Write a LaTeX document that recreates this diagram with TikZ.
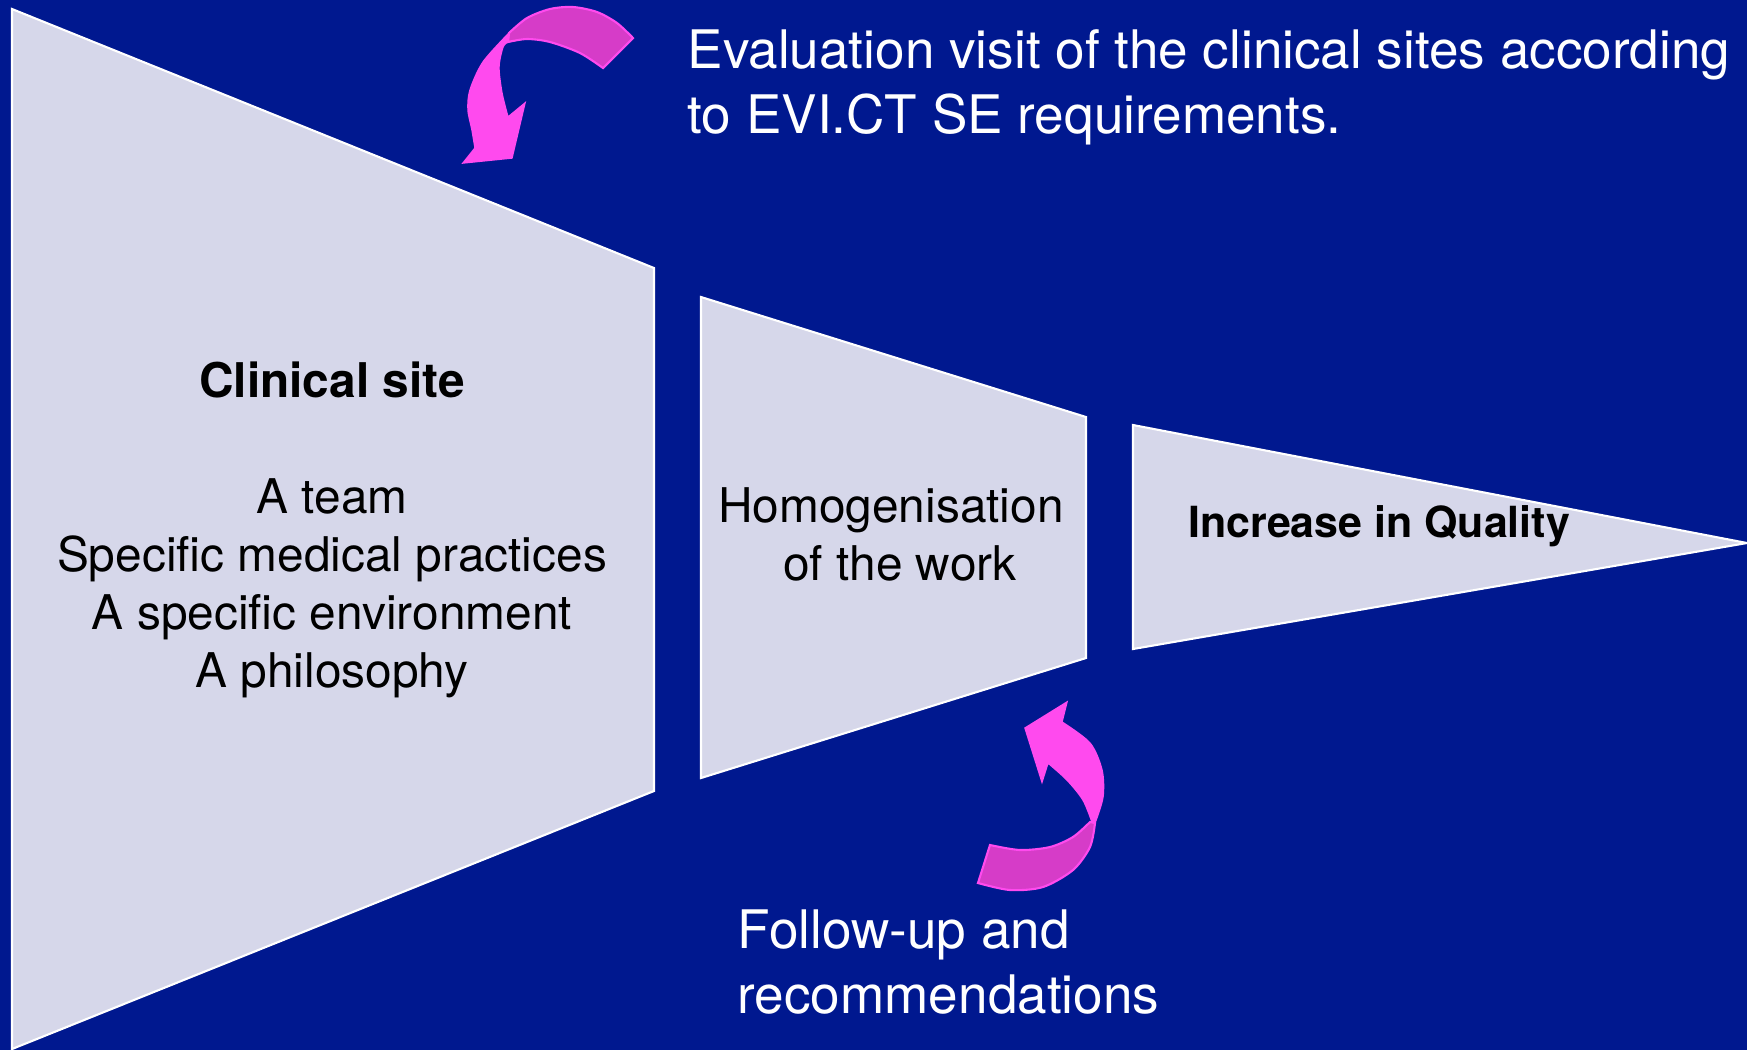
\documentclass[tikz,border=0pt]{standalone}
\usepackage{fontspec}
\setmainfont{TeX Gyre Heros}

\definecolor{slideblue}{RGB}{0,24,143}
\definecolor{stagefill}{RGB}{214,215,234}
\definecolor{arrowpink}{RGB}{255,74,238}
\definecolor{arrowdark}{RGB}{214,60,200}

\begin{document}
\begin{tikzpicture}[x=0.01cm,y=-0.01cm]

  \tikzstyle{stage}=[fill=stagefill,draw=white,line width=0.6pt,line join=miter]
  \tikzstyle{arrowfront}=[fill=arrowpink,draw=arrowpink,line width=0.4pt]
  \tikzstyle{arrowback}=[fill=arrowdark,draw=arrowpink,line width=0.6pt]
  \tikzstyle{body}=[font=\fontsize{13.6}{16.5}\selectfont,align=center,inner sep=0pt]
  \tikzstyle{note}=[text=white,font=\fontsize{15.1}{18.4}\selectfont,align=left,anchor=west,inner sep=0pt]

  % ====================
  % Parameters
  % ====================
  \def\slidew{1747} % Width of the slide
  \def\slideh{1050} % Height of the slide
  \def\midy{530}    % Common axis of the three stages
  % ====================

  % Background
  \fill[slideblue] (0,0) rectangle (\slidew,\slideh);
  \useasboundingbox (0,0) rectangle (\slidew,\slideh);

  % ====================
  % Stages
  % ====================
  \draw[stage] (12,9) -- (654,268) -- (654,791) -- (12,1049) -- cycle;
  \draw[stage] (701,297) -- (1086,417) -- (1086,658) -- (701,778) -- cycle;
  \draw[stage] (1133,425) -- (1747,543) -- (1133,649) -- cycle;

  \node (site) [body] at (332,\midy) {\textbf{Clinical site}\\[16.5pt]A team\\Specific medical practices\\A specific environment\\A philosophy};
  \node (homog) [body] at (891,534) {Homogenisation\\\hspace*{0.18cm}of the work};
  \node (quality) [body,font=\fontsize{12.2}{14}\selectfont\bfseries,anchor=base] at (1379,537) {Increase in Quality};

  % ====================
  % Curved arrows
  % ====================
  % Evaluation visit
  \draw[arrowback] plot[smooth] coordinates {(509,33) (527,18) (550,9) (573,7) (597,12) (617,23) (633,38)}
    -- (603,68) -- plot[smooth] coordinates {(603,68) (580,53) (550,42) (527,39) (508,42)} -- cycle;
  \draw[arrowfront] plot[smooth] coordinates {(509,33) (483,62) (470,90) (468,110) (472,130) (475,148)}
    -- (463,163) -- (512,158) -- (525,103) -- (508,117)
    -- plot[smooth] coordinates {(508,117) (502,93) (499,67) (503,47) (508,42)} -- cycle;

  % Follow-up
  \draw[arrowback] (990,845) -- (978,883) -- plot[smooth] coordinates {(978,883) (1010,890) (1043,887) (1073,870) (1090,847) (1095,823)}
    -- plot[smooth] coordinates {(1090,822) (1073,837) (1050,847) (1020,850) (990,845)} -- cycle;
  \draw[arrowfront] plot[smooth] coordinates {(1095,823) (1103,797) (1102,770) (1090,743) (1062,722)}
    -- (1067,702) -- (1025,728) -- (1042,782) -- (1048,763)
    -- plot[smooth] coordinates {(1048,763) (1067,780) (1083,800) (1092,822)} -- cycle;

  % ====================
  % Notes
  % ====================
  \node (visit) [note] at (687,87) {Evaluation visit of the clinical sites according\\to EVI.CT SE requirements.};
  \node (follow) [note] at (737,962) {Follow-up and\\recommendations};

\end{tikzpicture}
\end{document}
